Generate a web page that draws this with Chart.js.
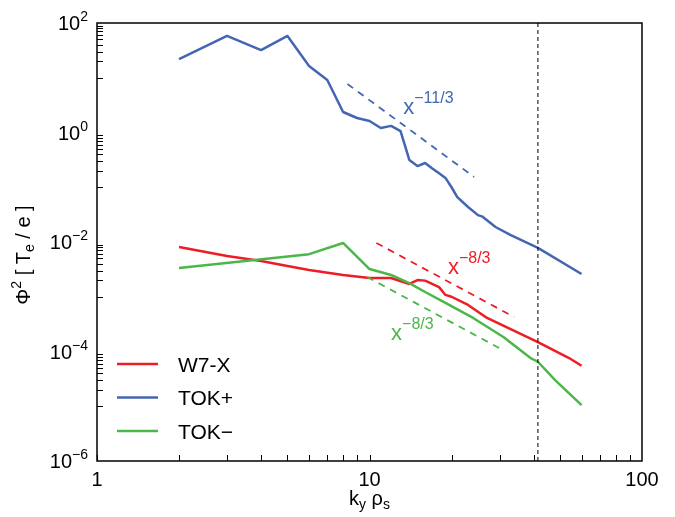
<!DOCTYPE html>
<html>
<head>
<meta charset="utf-8">
<script src="https://cdn.jsdelivr.net/npm/chart.js@4/dist/chart.umd.min.js"></script>
<style>
  html, body { margin: 0; padding: 0; background: #fff; }
  canvas { display: block; }
</style>
</head>
<body>
<canvas id="spectrum" width="675" height="517"></canvas>
<script>
// スペクトルのデータ
const kyW7X = [2, 3, 4, 5, 6, 8, 10, 12, 14, 15, 16, 18, 19, 20, 23, 27, 41.5, 54, 60];
const phiW7X = [0.0081, 0.00555, 0.0045, 0.00365, 0.00308, 0.0025, 0.0022, 0.0022, 0.00171, 0.00202, 0.00197,
                0.0015, 0.00108, 0.001, 7.08e-4, 4.1e-4, 1.49e-4, 7.6e-5, 5.5e-5];

const kyTokPlus = [2, 3, 4, 5, 6, 7, 8, 9, 10, 11, 12, 13, 14, 15, 16, 17, 18, 19, 20, 21, 23, 25, 26, 29, 33, 41.5, 60];
const phiTokPlus = [22, 58, 32, 58, 16.4, 9.1, 2.37, 1.84, 1.62, 1.21, 1.32, 1.06, 0.315, 0.244, 0.277, 0.22, 0.18,
                    0.148, 0.1, 0.066, 0.0436, 0.031, 0.029, 0.0188, 0.0134, 0.0078, 0.0026];

const kyTokMinus = [2, 6, 8, 10, 12, 14, 16, 19, 24, 31, 39, 41.5, 48, 60];
const phiTokMinus = [0.00335, 0.006, 0.0096, 0.00321, 0.0025, 0.00178, 0.00122, 7.7e-4, 4.1e-4, 1.84e-4,
                     7.6e-5, 6.5e-5, 3.0e-5, 1.05e-5];

// べき乗則の参照線（両端のみ）
const kyFitTokPlus = [8.3, 24.2];
const phiFitTokPlus = [7.7, 0.154];
const kyFitW7X = [10.6, 33.9];
const phiFitW7X = [0.0096, 4.27e-4];
const kyFitTokMinus = [9.8, 30.9];
const phiFitTokMinus = [0.0023, 1.06e-4];

// 縦の点線
const kyCutoff = [41.5, 41.5];
const phiCutoff = [1e-6, 1e2];

// 目盛りラベル
const xTickValues = [1, 10, 100];
const xTickLabels = ['1', '10', '100'];
const yTickValues = [1e2, 1, 1e-2, 1e-4, 1e-6];
const yTickExps = ['2', '0', '\u22122', '\u22124', '\u22126'];

const seriesNames = ['W7-X', 'TOK+', 'TOK\u2212'];

const RED = '#ee1c25';
const BLUE = '#4466b2';
const GREEN = '#4bb748';
const FONT = '"Liberation Sans", Arial, Helvetica, sans-serif';

function toPoints(xs, ys) {
    return xs.map((x, i) => ({ x: x, y: ys[i] }));
}

// 上付き・下付きを含む文字列を描く
function drawRuns(ctx, x, y, runs, align) {
    let total = 0;
    runs.forEach(r => {
        ctx.font = r.size + 'px ' + FONT;
        r.w = ctx.measureText(r.t).width;
        total += r.w;
    });
    let cx = x;
    if (align === 'right') cx = x - total;
    else if (align === 'center') cx = x - total / 2;
    runs.forEach(r => {
        ctx.font = r.size + 'px ' + FONT;
        ctx.fillText(r.t, cx, y + (r.dy || 0));
        cx += r.w;
    });
}

const axesPlugin = {
    id: 'axesPlugin',
    afterDatasetsDraw(chart) {
        const ctx = chart.ctx;
        const a = chart.chartArea;
        const xs = chart.scales.x;
        const ys = chart.scales.y;
        ctx.save();

        // 枠
        ctx.strokeStyle = '#000';
        ctx.lineWidth = 1.5;
        ctx.strokeRect(a.left, a.top, a.right - a.left, a.bottom - a.top);

        // x軸の目盛り（内向き）
        ctx.lineWidth = 1;
        ctx.beginPath();
        [1, 10].forEach(d => {
            for (let k = 1; k <= 9; k++) {
                const px = Math.round(xs.getPixelForValue(k * d)) + 0.5;
                ctx.moveTo(px, a.bottom);
                ctx.lineTo(px, a.bottom - 6);
            }
        });
        ctx.stroke();

        // y軸の目盛り（2桁ごとの主目盛りと補助目盛り）
        ctx.beginPath();
        [1e2, 1, 1e-2, 1e-4].forEach(m => {
            for (let k = 1; k <= 9; k++) {
                const py = Math.round(ys.getPixelForValue(m * k / 10)) + 0.5;
                ctx.moveTo(a.left, py);
                ctx.lineTo(a.left + 6, py);
            }
        });
        ctx.stroke();

        // 目盛りラベル
        ctx.fillStyle = '#000';
        ctx.textBaseline = 'alphabetic';
        xTickValues.forEach((v, i) => {
            const px = xs.getPixelForValue(v);
            drawRuns(ctx, px, a.bottom + 25, [{ t: xTickLabels[i], size: 20 }], 'center');
        });
        yTickValues.forEach((v, i) => {
            const py = ys.getPixelForValue(v);
            drawRuns(ctx, a.left - 9, py + 7, [
                { t: '10', size: 20 },
                { t: yTickExps[i], size: 14, dy: -9 }
            ], 'right');
        });

        // 軸タイトル
        drawRuns(ctx, (a.left + a.right) / 2, 505, [
            { t: 'k', size: 20 },
            { t: 'y', size: 14, dy: 4 },
            { t: ' \u03c1', size: 20 },
            { t: 's', size: 14, dy: 4 }
        ], 'center');

        ctx.save();
        ctx.translate(30, 255);
        ctx.rotate(-Math.PI / 2);
        drawRuns(ctx, 0, 0, [
            { t: '\u03a6', size: 20 },
            { t: '2', size: 14, dy: -9 },
            { t: ' [ T', size: 20 },
            { t: 'e', size: 14, dy: 4 },
            { t: ' / e ]', size: 20 }
        ], 'center');
        ctx.restore();

        // べき乗則のラベル
        const notes = [
            { ky: 13.3, phi: 2.2, exp: '\u221211/3', color: BLUE },
            { ky: 19.4, phi: 2.6e-3, exp: '\u22128/3', color: RED },
            { ky: 12.0, phi: 1.6e-4, exp: '\u22128/3', color: GREEN }
        ];
        notes.forEach(n => {
            ctx.fillStyle = n.color;
            drawRuns(ctx, xs.getPixelForValue(n.ky), ys.getPixelForValue(n.phi), [
                { t: 'x', size: 22 },
                { t: n.exp, size: 16, dy: -11 }
            ], 'left');
        });

        // 凡例
        const colors = [RED, BLUE, GREEN];
        seriesNames.forEach((name, i) => {
            const ly = 364 + i * 33.5;
            ctx.strokeStyle = colors[i];
            ctx.lineWidth = 2.5;
            ctx.beginPath();
            ctx.moveTo(117, ly);
            ctx.lineTo(158, ly);
            ctx.stroke();
            ctx.fillStyle = '#000';
            drawRuns(ctx, 178, ly + 7.5, [{ t: name, size: 21 }], 'left');
        });

        ctx.restore();
    }
};

function solid(data, color) {
    return {
        data: data, borderColor: color, borderWidth: 2.5, pointRadius: 0,
        showLine: true, fill: false, tension: 0, borderJoinStyle: 'round'
    };
}

function dashed(data, color) {
    return {
        data: data, borderColor: color, borderWidth: 1.8, pointRadius: 0,
        showLine: true, fill: false, borderDash: [7, 6]
    };
}

new Chart(document.getElementById('spectrum').getContext('2d'), {
    type: 'scatter',
    data: {
        datasets: [
            dashed(toPoints(kyFitTokPlus, phiFitTokPlus), BLUE),
            dashed(toPoints(kyFitW7X, phiFitW7X), RED),
            dashed(toPoints(kyFitTokMinus, phiFitTokMinus), GREEN),
            {
                data: toPoints(kyCutoff, phiCutoff), borderColor: '#000', borderWidth: 1,
                pointRadius: 0, showLine: true, borderDash: [4, 3]
            },
            solid(toPoints(kyTokMinus, phiTokMinus), GREEN),
            solid(toPoints(kyTokPlus, phiTokPlus), BLUE),
            solid(toPoints(kyW7X, phiW7X), RED)
        ]
    },
    options: {
        responsive: false,
        animation: false,
        layout: { padding: { left: 97, top: 23, right: 33, bottom: 56 } },
        scales: {
            x: { type: 'logarithmic', min: 1, max: 100, display: false },
            y: { type: 'logarithmic', min: 1e-6, max: 100, display: false }
        },
        plugins: {
            legend: { display: false },
            tooltip: { enabled: false }
        }
    },
    plugins: [axesPlugin]
});
</script>
</body>
</html>
